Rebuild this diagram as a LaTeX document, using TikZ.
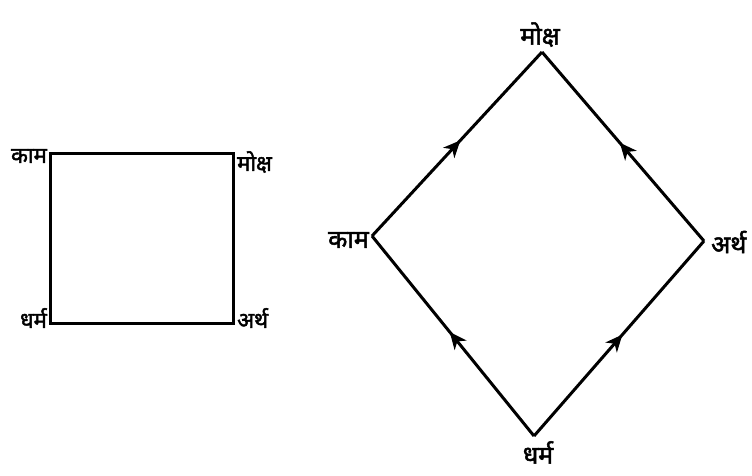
\documentclass[tikz,border=0pt]{standalone}
\usepackage{fontspec}
\newfontfamily\deva[Script=Devanagari,FakeBold=2]{Noto Sans}
\usetikzlibrary{
    arrows.meta,
    decorations.markings
}

\begin{document}
\begin{tikzpicture}[
        x=1pt, y=-1pt,
        sqlabel/.style={
            font=\deva\fontsize{22pt}{24pt}\selectfont,
            inner sep=1pt
        },
        dmlabel/.style={
            font=\deva\fontsize{25pt}{27pt}\selectfont,
            inner sep=1pt
        },
        side/.style={
            line width=3pt,
            draw=black
        },
        flow/.style={
            side,
            postaction={decorate},
            decoration={markings,
                mark=at position 0.52 with
                {\arrow{Stealth[length=17pt,width=15pt,inset=5pt]}}}
        }
    ]

    \useasboundingbox (0,0) rectangle (752,476);

    % square
    \coordinate (sqkam) at (50,153);
    \coordinate (sqmoksha) at (233,153);
    \coordinate (sqartha) at (233,323);
    \coordinate (sqdharma) at (50,323);

    \node[sqlabel, anchor=east] (sqkamlbl) at (48,156) {काम};
    \node[sqlabel, anchor=west] (sqmokshalbl) at (236,162) {मोक्ष};
    \node[sqlabel, anchor=west] (sqarthalbl) at (236,318) {अर्थ};
    \node[sqlabel, anchor=east] (sqdharmalbl) at (48,318) {धर्म};

    \draw[side] (sqkam) -- (sqmoksha) -- (sqartha) -- (sqdharma) -- cycle;

    % diamond
    \coordinate (dmmoksha) at (542,52);
    \coordinate (dmkam) at (372,236);
    \coordinate (dmartha) at (704,241);
    \coordinate (dmdharma) at (534,436);

    \node[dmlabel, anchor=south] (dmmokshalbl) at (540,48) {मोक्ष};
    \node[dmlabel, anchor=east] (dmkamlbl) at (370,240) {काम};
    \node[dmlabel, anchor=west] (dmarthalbl) at (710,242) {अर्थ};
    \node[dmlabel, anchor=north] (dmdharmalbl) at (538,440) {धर्म};

    \draw[flow] (dmkam) -- (dmmoksha);
    \draw[flow] (dmartha) -- (dmmoksha);
    \draw[flow] (dmdharma) -- (dmkam);
    \draw[flow] (dmdharma) -- (dmartha);

    \end{tikzpicture}
\end{document}
